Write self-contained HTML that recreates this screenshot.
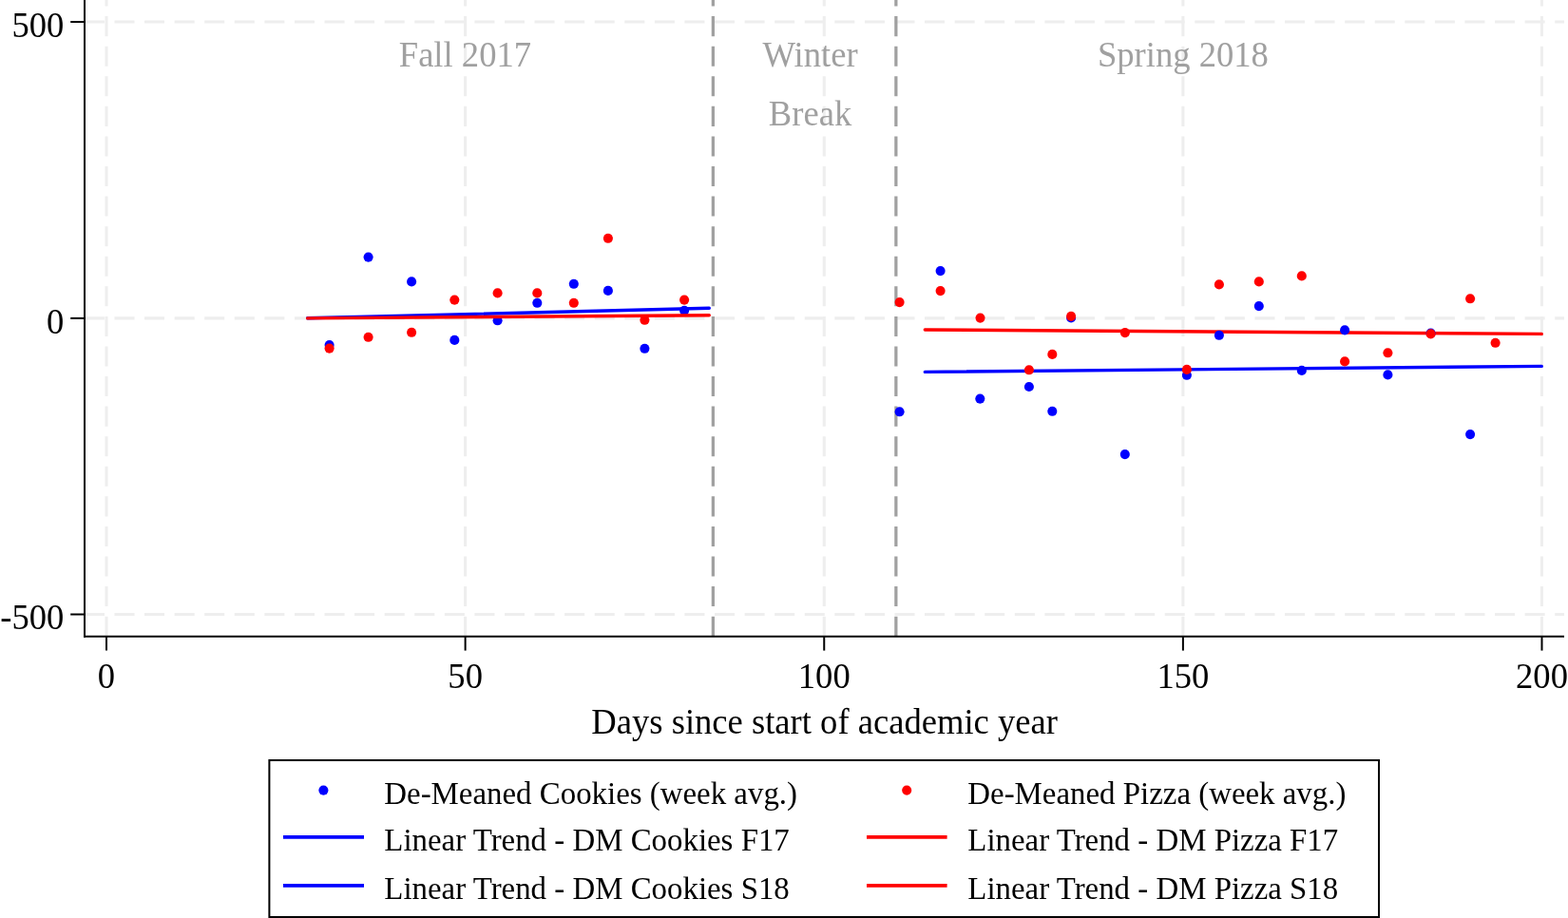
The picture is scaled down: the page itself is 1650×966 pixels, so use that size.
<!DOCTYPE html>
<html lang="en"><head><meta charset="utf-8"><title>De-Meaned Cookies and Pizza</title>
<style>html,body{margin:0;padding:0;background:#fff;overflow:hidden}svg{display:block}text{font-family:"Liberation Serif","Times New Roman",Times,serif;white-space:pre}.ax{font-size:36.6px;fill:#000}.an{font-size:36.6px;fill:#a0a0a0}.lg{font-size:32.9px;fill:#000}</style></head><body>
<svg width="1650" height="966" viewBox="0 0 1650 966">
<rect x="0" y="0" width="1650" height="966" fill="#ffffff"/>
<g stroke="#eeeeee" stroke-width="3.1" fill="none" stroke-dasharray="21.05 10.527">
<line x1="88.9" y1="23.05" x2="1646" y2="23.05"/>
<line x1="88.9" y1="334.9" x2="1646" y2="334.9"/>
<line x1="88.9" y1="646.5" x2="1646" y2="646.5"/>
<line x1="112.00" y1="669.7" x2="112.00" y2="-20"/>
<line x1="489.62" y1="669.7" x2="489.62" y2="-20"/>
<line x1="867.25" y1="669.7" x2="867.25" y2="-20"/>
<line x1="1244.88" y1="669.7" x2="1244.88" y2="-20"/>
<line x1="1622.50" y1="669.7" x2="1622.50" y2="-20"/>
</g>
<g stroke="#a0a0a0" stroke-width="3.25" fill="none" stroke-dasharray="21.05 10.527">
<line x1="750.35" y1="669.7" x2="750.35" y2="-20"/>
<line x1="942.85" y1="669.7" x2="942.85" y2="-20"/>
</g>
<text class="an" text-anchor="middle" transform="translate(489.40 70.10) scale(1 1.03)">Fall 2017</text>
<text class="an" text-anchor="middle" transform="translate(852.50 70.10) scale(1 1.015)">Winter</text>
<text class="an" text-anchor="middle" transform="translate(852.50 132.30) scale(1 1.015)">Break</text>
<text class="an" text-anchor="middle" transform="translate(1244.90 70.10) scale(1 1.03)">Spring 2018</text>
<line x1="973.3" y1="391.4" x2="1622.3" y2="385.4" stroke="#0000ff" stroke-width="3.4" stroke-linecap="round" fill="none"/>
<line x1="973.3" y1="347" x2="1622.3" y2="351.4" stroke="#ff0000" stroke-width="3.4" stroke-linecap="round" fill="none"/>
<g fill="#0000ff">
<circle cx="346.6" cy="363.12" r="5.05"/>
<circle cx="387.6" cy="270.62" r="5.05"/>
<circle cx="433.1" cy="296.42" r="5.05"/>
<circle cx="478.3" cy="357.92" r="5.05"/>
<circle cx="523.6" cy="337.32" r="5.05"/>
<circle cx="565.3" cy="318.82" r="5.05"/>
<circle cx="603.8" cy="298.82" r="5.05"/>
<circle cx="639.9" cy="305.92" r="5.05"/>
<circle cx="678.4" cy="366.82" r="5.05"/>
<circle cx="720.1" cy="326.82" r="5.05"/>
<circle cx="946.6" cy="433.32" r="5.05"/>
<circle cx="989.6" cy="285.12" r="5.05"/>
<circle cx="1031.3" cy="419.62" r="5.05"/>
<circle cx="1082.9" cy="407.02" r="5.05"/>
<circle cx="1107.3" cy="432.82" r="5.05"/>
<circle cx="1127.1" cy="334.42" r="5.05"/>
<circle cx="1183.8" cy="478.12" r="5.05"/>
<circle cx="1248.9" cy="394.82" r="5.05"/>
<circle cx="1282.9" cy="352.82" r="5.05"/>
<circle cx="1324.8" cy="322.12" r="5.05"/>
<circle cx="1369.8" cy="389.92" r="5.05"/>
<circle cx="1415.1" cy="347.42" r="5.05"/>
<circle cx="1460.4" cy="394.42" r="5.05"/>
<circle cx="1505.6" cy="350.62" r="5.05"/>
<circle cx="1547.1" cy="457.12" r="5.05"/>
</g>
<line x1="323.6" y1="334.8" x2="746.3" y2="324.3" stroke="#0000ff" stroke-width="3.4" stroke-linecap="round" fill="none"/>
<g fill="#ff0000">
<circle cx="346.6" cy="366.62" r="5.05"/>
<circle cx="387.6" cy="354.82" r="5.05"/>
<circle cx="433.1" cy="349.82" r="5.05"/>
<circle cx="478.3" cy="315.62" r="5.05"/>
<circle cx="523.6" cy="308.42" r="5.05"/>
<circle cx="565.3" cy="308.42" r="5.05"/>
<circle cx="603.8" cy="318.82" r="5.05"/>
<circle cx="639.9" cy="250.82" r="5.05"/>
<circle cx="678.4" cy="336.82" r="5.05"/>
<circle cx="720.1" cy="315.62" r="5.05"/>
<circle cx="946.6" cy="318.12" r="5.05"/>
<circle cx="989.6" cy="306.12" r="5.05"/>
<circle cx="1031.5" cy="334.62" r="5.05"/>
<circle cx="1082.9" cy="389.32" r="5.05"/>
<circle cx="1107.3" cy="372.92" r="5.05"/>
<circle cx="1127.1" cy="332.92" r="5.05"/>
<circle cx="1183.9" cy="350.12" r="5.05"/>
<circle cx="1248.9" cy="388.92" r="5.05"/>
<circle cx="1282.9" cy="299.42" r="5.05"/>
<circle cx="1324.8" cy="296.42" r="5.05"/>
<circle cx="1369.8" cy="290.42" r="5.05"/>
<circle cx="1415.1" cy="380.42" r="5.05"/>
<circle cx="1460.4" cy="371.32" r="5.05"/>
<circle cx="1505.6" cy="351.42" r="5.05"/>
<circle cx="1547.1" cy="314.32" r="5.05"/>
<circle cx="1573.6" cy="360.82" r="5.05"/>
</g>
<line x1="323.6" y1="334.9" x2="746.3" y2="331.7" stroke="#ff0000" stroke-width="3.4" stroke-linecap="round" fill="none"/>
<g stroke="#000" stroke-width="2" fill="none" stroke-linecap="butt">
<line x1="89" y1="-5" x2="89" y2="670.7"/>
<line x1="88" y1="669.7" x2="1646" y2="669.7"/>
<line x1="74.2" y1="23.05" x2="89" y2="23.05"/>
<line x1="74.2" y1="334.9" x2="89" y2="334.9"/>
<line x1="74.2" y1="646.5" x2="89" y2="646.5"/>
<line x1="112.00" y1="669.7" x2="112.00" y2="684.6"/>
<line x1="489.62" y1="669.7" x2="489.62" y2="684.6"/>
<line x1="867.25" y1="669.7" x2="867.25" y2="684.6"/>
<line x1="1244.88" y1="669.7" x2="1244.88" y2="684.6"/>
<line x1="1622.50" y1="669.7" x2="1622.50" y2="684.6"/>
</g>
<text class="ax" text-anchor="end" transform="translate(67.40 38.95) scale(1 1.045)">500</text>
<text class="ax" text-anchor="end" transform="translate(67.40 350.80) scale(1 1.045)">0</text>
<text class="ax" text-anchor="end" transform="translate(67.40 662.40) scale(1 1.045)">-500</text>
<text class="ax" text-anchor="middle" transform="translate(112.00 724.30) scale(1 1.045)">0</text>
<text class="ax" text-anchor="middle" transform="translate(489.62 724.30) scale(1 1.045)">50</text>
<text class="ax" text-anchor="middle" transform="translate(867.25 724.30) scale(1 1.045)">100</text>
<text class="ax" text-anchor="middle" transform="translate(1244.88 724.30) scale(1 1.045)">150</text>
<text class="ax" text-anchor="middle" transform="translate(1622.50 724.30) scale(1 1.045)">200</text>
<text class="ax" text-anchor="middle" transform="translate(867.60 771.50) scale(1 1.015)">Days since start of academic year</text>
<rect x="283.4" y="800" width="1167.6" height="165" fill="#ffffff" stroke="#000" stroke-width="2"/>
<circle cx="340.4" cy="831.6" r="5.05" fill="#0000ff"/>
<circle cx="954.2" cy="831.6" r="5.05" fill="#ff0000"/>
<g fill="none" stroke-width="3.7" stroke-linecap="butt">
<line x1="298" y1="880.8" x2="383" y2="880.8" stroke="#0000ff"/>
<line x1="912" y1="880.8" x2="996.6" y2="880.8" stroke="#ff0000"/>
<line x1="298" y1="931.8" x2="383" y2="931.8" stroke="#0000ff"/>
<line x1="912" y1="931.8" x2="996.6" y2="931.8" stroke="#ff0000"/>
</g>
<text class="lg" text-anchor="start" x="404.30" y="845.80">De-Meaned Cookies (week avg.)</text>
<text class="lg" text-anchor="start" x="1018.30" y="845.80">De-Meaned Pizza (week avg.)</text>
<text class="lg" text-anchor="start" transform="translate(404.30 895.30) scale(1 1.015)">Linear Trend - DM Cookies F17</text>
<text class="lg" text-anchor="start" transform="translate(1018.30 895.30) scale(1 1.015)">Linear Trend - DM Pizza F17</text>
<text class="lg" text-anchor="start" transform="translate(404.30 946.10) scale(1 1.015)">Linear Trend - DM Cookies S18</text>
<text class="lg" text-anchor="start" transform="translate(1018.30 946.10) scale(1 1.015)">Linear Trend - DM Pizza S18</text>
</svg></body></html>
